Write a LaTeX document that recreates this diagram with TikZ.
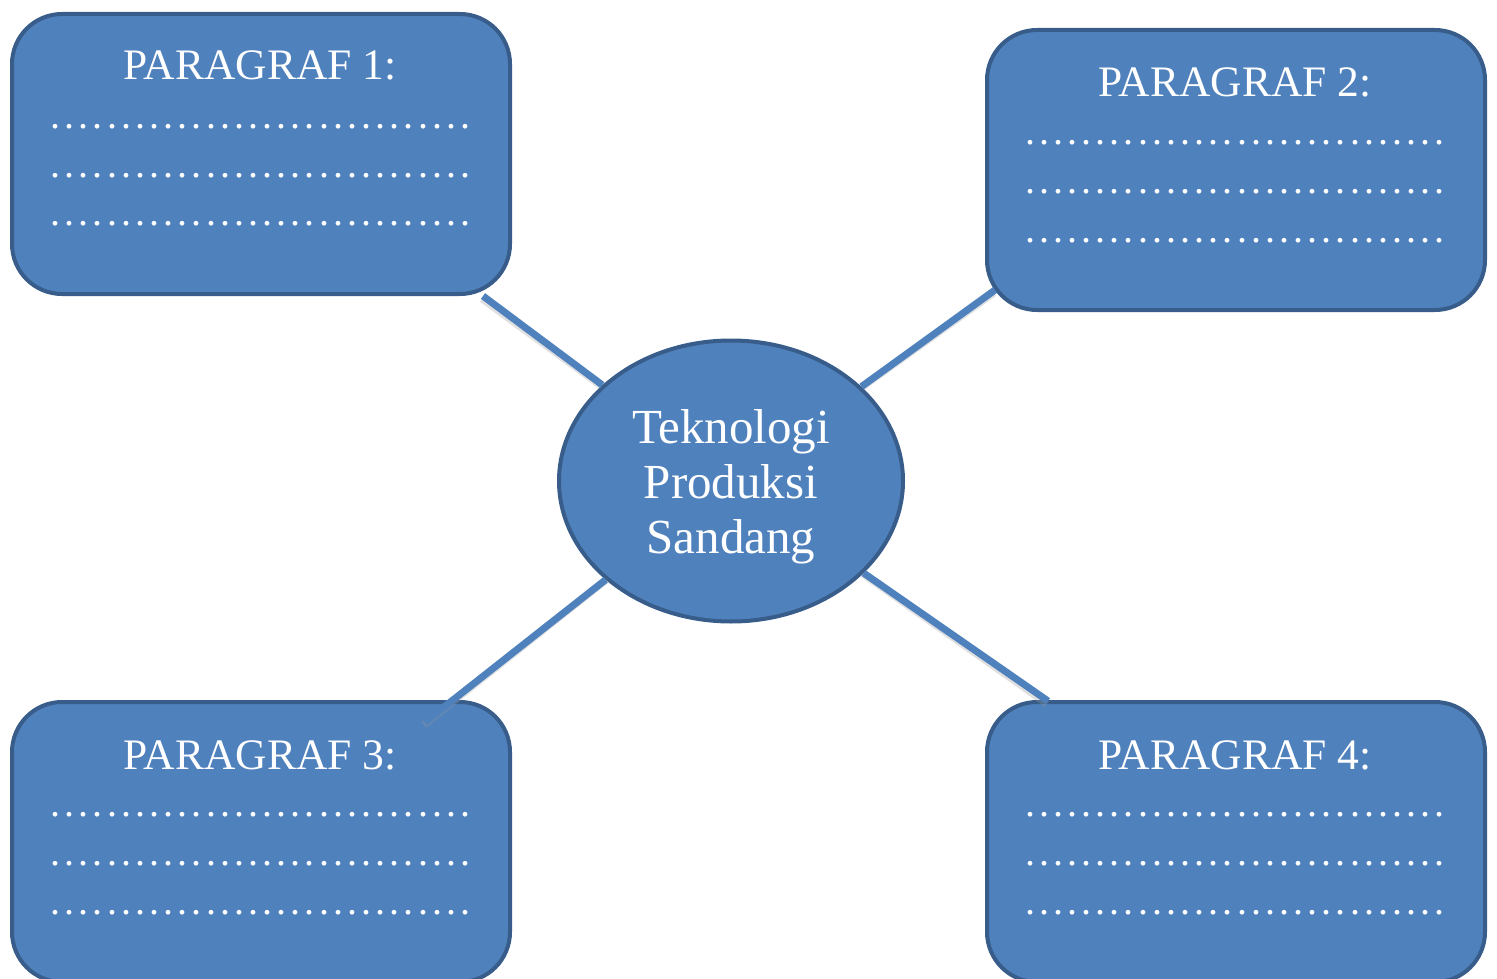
\documentclass[tikz,border=0pt]{standalone}
\usepackage{fontspec}
\setmainfont{Liberation Serif}
\usetikzlibrary{shapes.geometric}
\definecolor{boxfill}{HTML}{4F81BD}
\definecolor{boxline}{HTML}{385D8A}
\newcommand\dotrow{\hbox to 424pt{\xleaders\hbox to 14.13pt{\hss.\hss}\hfill}}
\tikzset{
  parbox/.style={draw=boxline, line width=4pt, fill=boxfill, rounded corners=50pt,
    minimum width=498pt, minimum height=280pt, inner sep=0pt},
  hub/.style={draw=boxline, line width=4pt, fill=boxfill, ellipse, minimum width=344pt,
    minimum height=281pt, inner sep=0pt},
  hubtext/.style={text=white, align=center, inner sep=0pt,
    font=\fontsize{49pt}{55pt}\selectfont},
  title/.style={anchor=base, text=white, inner sep=0pt, font=\fontsize{43.5pt}{50pt}\selectfont},
  dots/.style={anchor=base, text=white, inner sep=0pt, font=\fontsize{40pt}{50pt}\selectfont},
  link/.style={draw=boxfill, line width=7pt},
  linkshadow/.style={draw=black!40, line width=7pt, opacity=0.3},
}
\begin{document}
\begin{tikzpicture}[x=1pt,y=-1pt]
\useasboundingbox (0,0) rectangle (1497,979);
% boxes
\node[parbox] (b1) at (261,154) {};
\node[parbox] (b2) at (1236,170) {};
\node[parbox] (b3) at (261,842) {};
\node[parbox] (b4) at (1236,842) {};
% hub
\node[hub] (hub) at (731,481) {};
\node[hubtext] (hubt) at (731,487) {Teknologi\\Produksi\\Sandang};
% anchor points for connectors
\coordinate (c1) at (483,296);
\coordinate (c2) at (995,290);
\coordinate (c3) at (425,722);
\coordinate (c4) at (1048,701);
% connectors with faint shadow
\foreach \c in {c1,c2,c3,c4}{
  \draw[linkshadow] ([shift={(-1,3)}]\c) -- ([shift={(-1,3)}]hub);
}
\foreach \c in {c1,c2,c3,c4}{
  \draw[link] (\c) -- (hub);
}
% titles
\node[title] (t1) at (260,80) {PARAGRAF 1:};
\node[title] (t2) at (1235,97) {PARAGRAF 2:};
\node[title] (t3) at (260,769) {PARAGRAF 3:};
\node[title] (t4) at (1235,769) {PARAGRAF 4:};
% dotted rows
\node[dots] (d11) at (260.5,128.5) {\dotrow};
\node[dots] (d12) at (260.5,177.5) {\dotrow};
\node[dots] (d13) at (260.5,225.5) {\dotrow};
\node[dots] (d21) at (1235,144.5) {\dotrow};
\node[dots] (d22) at (1235,193.5) {\dotrow};
\node[dots] (d23) at (1235,242.5) {\dotrow};
\node[dots] (d31) at (260.5,816.5) {\dotrow};
\node[dots] (d32) at (260.5,865.5) {\dotrow};
\node[dots] (d33) at (260.5,914.5) {\dotrow};
\node[dots] (d41) at (1235,816.5) {\dotrow};
\node[dots] (d42) at (1235,865.5) {\dotrow};
\node[dots] (d43) at (1235,914.5) {\dotrow};
\end{tikzpicture}
\end{document}
